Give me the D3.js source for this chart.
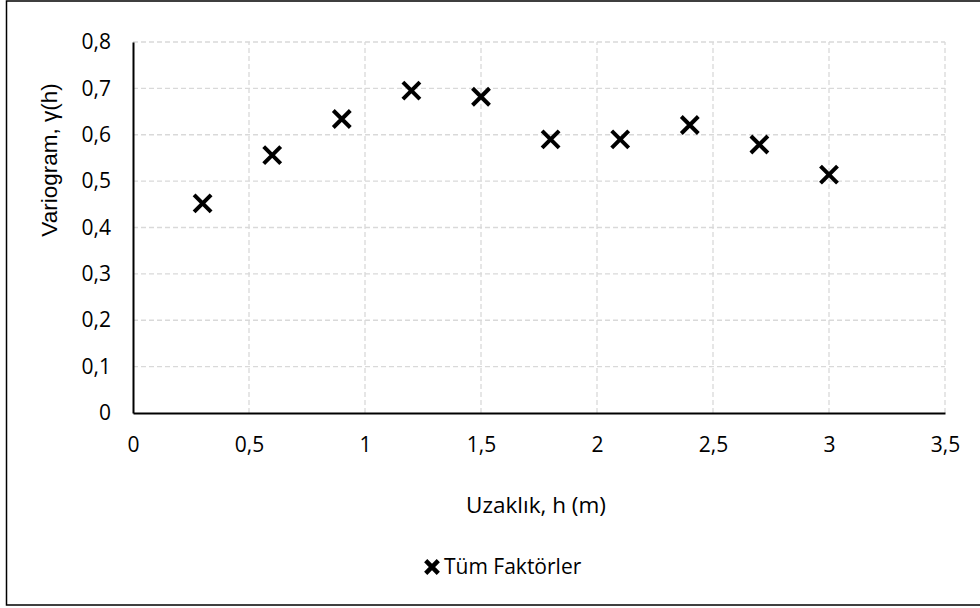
<!DOCTYPE html>
<html>
<head>
<meta charset="utf-8">
<script src="https://cdn.jsdelivr.net/npm/d3@7"></script>
<style>
  body { margin: 0; background: #fff; }
  text { font-family: "Open Sans", sans-serif; fill: #000; }
</style>
</head>
<body>
<div class="graph"></div>
<script>
// data
var hValues = [0.3, 0.6, 0.9, 1.2, 1.5, 1.8, 2.1, 2.4, 2.7, 3.0];
var gammaValues = [0.452, 0.556, 0.634, 0.695, 0.682, 0.590, 0.590, 0.621, 0.579, 0.514];
var xTicks = [0, 0.5, 1, 1.5, 2, 2.5, 3, 3.5];
var yTicks = [0, 0.1, 0.2, 0.3, 0.4, 0.5, 0.6, 0.7, 0.8];
var seriesName = 'Tüm Faktörler';

var w = 980, h = 608;
var svg = d3.select('div.graph').append('svg')
    .attr('width', w).attr('height', h);

// outer border
svg.append('rect')
    .attr('x', 6.5).attr('y', 1).attr('width', 980).attr('height', 604)
    .attr('fill', 'none').attr('stroke', '#000').attr('stroke-width', 1.5);

// plot area
var pltM = {top: 42, left: 133, right: 945, bottom: 413};
var x = d3.scaleLinear().domain([0, 3.5]).range([pltM.left, pltM.right]);
var y = d3.scaleLinear().domain([0, 0.8]).range([pltM.bottom, pltM.top]);

var fmt = function(d){ return String(d).replace('.', ','); };

// grid
var grid = svg.append('g').attr('class', 'grid');
grid.selectAll('.hgrid')
    .data(yTicks.filter(function(d){ return d > 0; }))
    .enter().append('line')
    .attr('x1', x(0)).attr('x2', x(3.5))
    .attr('y1', function(d){ return y(d); }).attr('y2', function(d){ return y(d); })
    .attr('stroke', '#d9d9d9').attr('stroke-width', 1.3).attr('stroke-dasharray', '5,3');
grid.selectAll('.vgrid')
    .data(xTicks.filter(function(d){ return d > 0; }))
    .enter().append('line')
    .attr('x1', function(d){ return x(d); }).attr('x2', function(d){ return x(d); })
    .attr('y1', y(0)).attr('y2', y(0.8))
    .attr('stroke', '#d9d9d9').attr('stroke-width', 1.3).attr('stroke-dasharray', '5,3');

// axes
var xAxis = d3.axisBottom(x).tickValues(xTicks).tickSize(0).tickPadding(24.5).tickFormat(fmt);
var xAxisG = svg.append('g').attr('transform', 'translate(0,' + y(0) + ')').call(xAxis);
xAxisG.select('.domain').attr('stroke', '#000').attr('stroke-width', 2);
xAxisG.selectAll('.tick text').style('font-size', '21px').style('font-family', '"Open Sans", sans-serif');

var yAxis = d3.axisLeft(y).tickValues(yTicks).tickSize(0).tickPadding(22).tickFormat(fmt);
var yAxisG = svg.append('g').attr('transform', 'translate(' + x(0) + ',0)').call(yAxis);
yAxisG.select('.domain').attr('stroke', '#000').attr('stroke-width', 2);
yAxisG.selectAll('.tick text').style('font-size', '21px').style('font-family', '"Open Sans", sans-serif');

// axis titles
svg.append('text')
    .attr('x', 536).attr('y', 512.5)
    .attr('text-anchor', 'middle')
    .style('font-size', '22.5px')
    .text('Uzaklık, h (m)');

svg.append('text')
    .attr('transform', 'translate(57,160) rotate(-90)')
    .attr('text-anchor', 'middle')
    .style('font-size', '22.5px')
    .style('font-family', '"Liberation Sans", Arial, sans-serif')
    .text('Variogram, γ(h)');

// points
var m = 8.5;
svg.selectAll('.point')
    .data(hValues)
    .enter().append('path')
    .attr('class', 'point')
    .attr('d', function(d, i){
        var cx = x(d), cy = y(gammaValues[i]);
        return 'M' + (cx - m) + ',' + (cy - m) + 'L' + (cx + m) + ',' + (cy + m) +
               'M' + (cx - m) + ',' + (cy + m) + 'L' + (cx + m) + ',' + (cy - m);
    })
    .attr('stroke', '#000').attr('stroke-width', 4).attr('fill', 'none');

// legend
var lg = svg.append('g').attr('transform', 'translate(432,567)');
var lm = 6.3;
lg.append('path')
    .attr('d', 'M' + (-lm) + ',' + (-lm) + 'L' + lm + ',' + lm + 'M' + (-lm) + ',' + lm + 'L' + lm + ',' + (-lm))
    .attr('stroke', '#000').attr('stroke-width', 4.5);
lg.append('text')
    .attr('x', 12).attr('y', 7)
    .style('font-size', '21px')
    .text(seriesName);
</script>
</body>
</html>
